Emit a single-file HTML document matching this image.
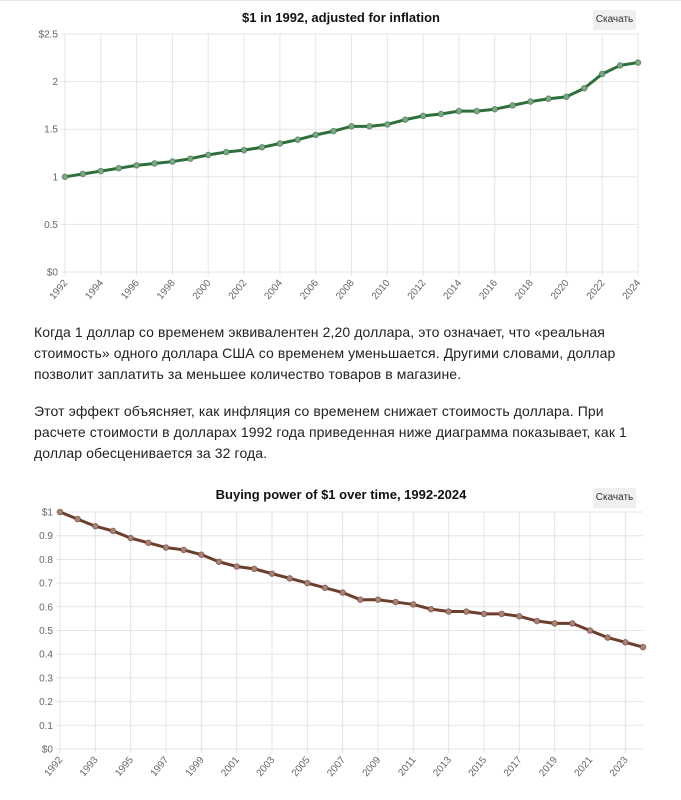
<!DOCTYPE html>
<html><head><meta charset="utf-8"><style>
body{margin:0;width:681px;height:800px;background:#fff;font-family:"Liberation Sans","DejaVu Sans",sans-serif;position:relative;overflow:hidden}
.top{position:absolute;left:0;top:0;width:681px;height:1px;background:#e6e6e6}
.btn{position:absolute;left:593px;width:43px;height:20px;background:#efefef;border-radius:2px;font-size:10px;line-height:20px;text-align:center;color:#333}
.p{position:absolute;left:34px;width:600px;font-size:14px;line-height:21px;color:#222;letter-spacing:0.1px}
svg{position:absolute;left:0;top:0}
</style></head><body>
<div class="top"></div>
<svg id="s" width="681" height="800" xmlns="http://www.w3.org/2000/svg" font-family="Liberation Sans, sans-serif"></svg>
<div class="btn" style="top:10px">Скачать</div>
<div class="btn" style="top:488px">Скачать</div>
<div class="p" style="top:322px">Когда 1 доллар со временем эквивалентен 2,20 доллара, это означает, что «реальная стоимость» одного доллара США со временем уменьшается. Другими словами, доллар позволит заплатить за меньшее количество товаров в магазине.</div>
<div class="p" style="top:401px">Этот эффект объясняет, как инфляция со временем снижает стоимость доллара. При расчете стоимости в долларах 1992 года приведенная ниже диаграмма показывает, как 1 доллар обесценивается за 32 года.</div>
<script>
const s=document.getElementById('s');let h='';
function chart(o){
 const {x0,x1,y0,y1,max,data,ylab,xlab,col,fill,title,ty}=o;
 const n=data.length,st=(x1-x0)/(n-1);
 h+=`<text x="341" y="${ty}" text-anchor="middle" font-size="13" font-weight="bold" fill="#111">${title}</text>`;
 ylab.forEach((l,i)=>{const y=y1-(y1-y0)*i/(ylab.length-1);
  h+=`<line x1="${x0-4}" x2="${x1}" y1="${y}" y2="${y}" stroke="#e5e5e5"/>`;
  h+=`<text x="${x0-7}" y="${y+3.5}" text-anchor="end" font-size="10" fill="#666">${l}</text>`;});
 xlab.forEach((l,k)=>{const x=x0+2*k*st;
  h+=`<line x1="${x}" x2="${x}" y1="${y0}" y2="${y1+4}" stroke="#e5e5e5"/>`;
  h+=`<text transform="translate(${x+3},${y1+11}) rotate(-50)" text-anchor="end" font-size="10" fill="#666">${l}</text>`;});
 let p=data.map((v,i)=>`${x0+i*st},${y1-(y1-y0)*v/max}`).join(' ');
 h+=`<polyline points="${p}" fill="none" stroke="${col}" stroke-width="3" stroke-linejoin="round"/>`;
 data.forEach((v,i)=>{h+=`<circle cx="${x0+i*st}" cy="${y1-(y1-y0)*v/max}" r="2.8" fill="${fill}" stroke="${col}" stroke-opacity=".6"/>`;});
}
let xl1=[];for(let y=1992;y<=2024;y+=2)xl1.push(y);
chart({x0:65,x1:638,y0:34,y1:272,max:2.5,title:'$1 in 1992, adjusted for inflation',ty:22,col:'#2f6e3d',fill:'#7da787',
 data:[1,1.03,1.06,1.09,1.12,1.14,1.16,1.19,1.23,1.26,1.28,1.31,1.35,1.39,1.44,1.48,1.53,1.53,1.55,1.6,1.64,1.66,1.69,1.69,1.71,1.75,1.79,1.82,1.84,1.93,2.08,2.17,2.2],
 ylab:['$0','0.5','1','1.5','2','$2.5'],xlab:xl1});
let xl2=[1992];for(let y=1993;y<=2023;y+=2)xl2.push(y);
chart({x0:60,x1:643,y0:512,y1:749,max:1,title:'Buying power of $1 over time, 1992-2024',ty:499,col:'#6b3e2e',fill:'#a88476',
 data:[1,.97,.94,.92,.89,.87,.85,.84,.82,.79,.77,.76,.74,.72,.70,.68,.66,.63,.63,.62,.61,.59,.58,.58,.57,.57,.56,.54,.53,.53,.50,.47,.45,.43],
 ylab:['$0','0.1','0.2','0.3','0.4','0.5','0.6','0.7','0.8','0.9','$1'],xlab:xl2});
s.innerHTML=h;
</script>
</body></html>
